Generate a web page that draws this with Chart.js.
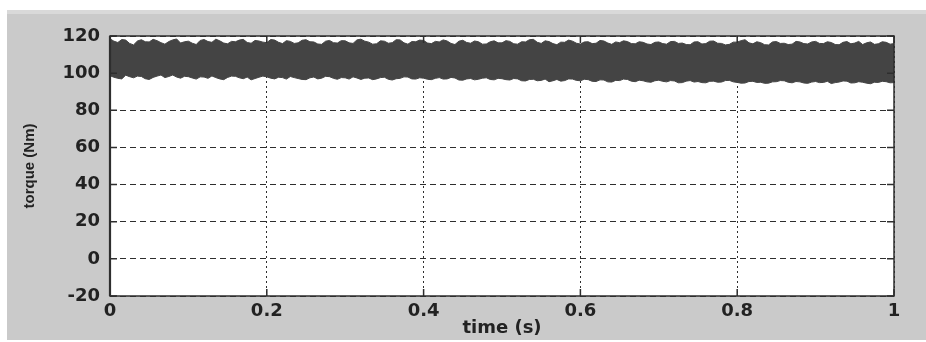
<!DOCTYPE html>
<html><head><meta charset="utf-8">
<script src="https://cdn.jsdelivr.net/npm/chart.js@4/dist/chart.umd.min.js"></script>
<style>html,body{margin:0;padding:0;background:#fff;overflow:hidden}
#wrap{position:relative;width:926px;height:342px}</style>
</head><body><div id="wrap"><canvas id="c" width="926" height="342"></canvas></div>
<script>
// time samples (s)
const timeS = [0,0.005,0.01,0.015,0.02,0.025,0.03,0.035,0.04,0.045,0.05,0.055,0.06,0.065,0.07,0.075,0.08,0.085,0.09,0.095,
0.10,0.105,0.11,0.115,0.12,0.125,0.13,0.135,0.14,0.145,0.15,0.155,0.16,0.165,0.17,0.175,0.18,0.185,0.19,0.195,
0.20,0.205,0.21,0.215,0.22,0.225,0.23,0.235,0.24,0.245,0.25,0.255,0.26,0.265,0.27,0.275,0.28,0.285,0.29,0.295,
0.30,0.305,0.31,0.315,0.32,0.325,0.33,0.335,0.34,0.345,0.35,0.355,0.36,0.365,0.37,0.375,0.38,0.385,0.39,0.395,
0.40,0.405,0.41,0.415,0.42,0.425,0.43,0.435,0.44,0.445,0.45,0.455,0.46,0.465,0.47,0.475,0.48,0.485,0.49,0.495,
0.50,0.505,0.51,0.515,0.52,0.525,0.53,0.535,0.54,0.545,0.55,0.555,0.56,0.565,0.57,0.575,0.58,0.585,0.59,0.595,
0.60,0.605,0.61,0.615,0.62,0.625,0.63,0.635,0.64,0.645,0.65,0.655,0.66,0.665,0.67,0.675,0.68,0.685,0.69,0.695,
0.70,0.705,0.71,0.715,0.72,0.725,0.73,0.735,0.74,0.745,0.75,0.755,0.76,0.765,0.77,0.775,0.78,0.785,0.79,0.795,
0.80,0.805,0.81,0.815,0.82,0.825,0.83,0.835,0.84,0.845,0.85,0.855,0.86,0.865,0.87,0.875,0.88,0.885,0.89,0.895,
0.90,0.905,0.91,0.915,0.92,0.925,0.93,0.935,0.94,0.945,0.95,0.955,0.96,0.965,0.97,0.975,0.98,0.985,0.99,0.995,1.00];
// upper envelope of the torque ripple (Nm)
const upperNm = [118.5,117.2,116.5,118.1,117.8,116.0,115.2,117.3,118.0,116.9,116.8,118.2,117.5,116.4,115.6,117.0,117.9,118.4,116.2,116.9,
117.2,116.1,115.4,117.6,118.1,117.0,116.6,118.3,117.4,116.2,115.8,117.1,116.9,117.8,118.2,116.5,116.1,117.6,117.3,116.7,
116.4,118.1,117.8,116.6,115.9,117.5,117.1,116.0,116.3,117.7,118.0,116.9,116.8,115.7,115.5,117.2,117.6,116.4,116.2,117.5,
117.4,116.3,116.0,117.9,118.3,117.2,116.7,115.6,115.8,117.4,117.2,116.1,116.4,118.0,117.9,116.3,115.6,117.0,116.9,117.8,
117.6,116.2,115.9,117.1,116.8,117.9,117.3,116.0,115.4,117.2,117.7,116.5,116.1,117.3,116.9,115.6,115.7,116.9,117.4,116.3,
116.3,117.5,117.1,115.8,115.6,116.9,116.8,118.0,118.2,116.6,116.0,117.4,117.0,115.9,115.3,116.7,116.6,117.8,117.2,116.1,
115.7,116.8,116.9,115.9,116.1,117.6,117.3,116.2,115.5,116.8,116.4,117.4,117.0,115.9,115.8,116.9,116.6,115.7,115.4,116.6,
116.8,115.9,115.6,117.0,117.1,116.0,116.2,115.4,115.3,116.8,116.9,115.7,115.9,117.2,117.3,116.1,116.0,115.2,115.5,116.7,
116.7,117.5,118.0,116.3,115.8,116.9,116.4,115.3,115.2,116.8,117.0,116.0,116.1,115.4,115.6,117.1,116.8,115.9,115.7,116.8,
117.1,116.0,115.9,116.9,116.5,115.4,115.3,116.6,117.0,115.8,116.2,117.1,115.4,116.3,116.8,115.5,115.8,116.9,116.6,115.6,115.9];
// lower envelope of the torque ripple (Nm)
const lowerNm = [98.6,97.8,97.2,96.9,98.9,98.1,97.5,98.4,98.2,97.0,96.6,97.7,98.4,99.0,97.6,98.2,99.0,97.9,97.3,98.3,
98.1,97.4,96.8,98.0,97.9,97.2,98.5,97.6,96.9,96.5,97.7,98.4,98.3,97.5,97.0,97.9,96.4,97.1,97.8,98.4,
98.0,97.3,96.9,97.8,97.6,96.8,98.2,97.6,97.1,96.6,96.5,97.5,97.9,96.9,97.3,98.3,98.1,97.2,96.7,97.6,
97.5,96.8,98.0,97.4,96.6,97.3,97.4,96.5,96.9,97.6,97.8,96.7,96.3,97.0,97.2,98.0,97.9,96.9,96.8,97.5,
97.3,96.7,96.5,97.2,97.6,96.8,96.9,97.7,97.4,96.3,96.2,96.9,97.1,96.4,96.7,97.3,97.5,96.6,96.4,97.2,
97.0,96.5,96.3,97.1,96.9,95.9,95.8,96.6,96.7,95.9,96.1,96.8,95.4,95.9,96.6,95.7,96.0,96.9,96.8,96.1,
95.9,96.7,96.5,95.6,95.5,96.4,96.3,95.3,95.2,96.1,96.0,96.8,96.6,95.7,95.4,96.2,95.9,95.3,95.1,95.9,
96.2,95.6,95.3,96.0,95.8,94.8,94.9,95.7,96.0,95.2,95.5,94.9,94.8,95.6,95.7,95.1,95.2,96.0,96.1,95.3,
95.0,94.6,94.7,95.5,95.6,95.0,95.1,94.5,94.6,95.3,95.4,96.0,95.9,95.1,94.8,95.5,95.3,94.7,94.5,95.2,
95.5,94.9,95.0,95.6,94.4,94.9,95.2,95.8,95.7,94.7,94.8,95.4,95.1,94.6,94.3,95.1,95.0,95.6,95.4,94.8,94.9];
const xTicks = [0,0.2,0.4,0.6,0.8,1];
const yTicks = [-20,0,20,40,60,80,100,120];

const AXIS = '#2e2e2e';
const bgPlugin = {
  id:'bg',
  beforeDraw(chart){
    const ctx = chart.ctx, a = chart.chartArea;
    ctx.save();
    ctx.fillStyle = '#fff'; ctx.fillRect(0,0,chart.width,chart.height);
    ctx.fillStyle = '#cacaca'; ctx.fillRect(7,10,chart.width-7,330);
    ctx.fillStyle = '#d9d9d9'; ctx.fillRect(7,10,chart.width-7,4);
    ctx.fillStyle = '#fff'; ctx.fillRect(a.left,a.top,a.right-a.left,a.bottom-a.top);
    ctx.restore();
  },
  afterDatasetsDraw(chart){
    const ctx = chart.ctx, a = chart.chartArea;
    const xs = chart.scales.x, ys = chart.scales.y;
    ctx.save();
    ctx.strokeStyle = AXIS; ctx.lineWidth = 1.5;
    ctx.beginPath();
    xTicks.forEach(v=>{const p = xs.getPixelForValue(v);
      ctx.moveTo(p,a.bottom); ctx.lineTo(p,a.bottom-7);
      ctx.moveTo(p,a.top); ctx.lineTo(p,a.top+7);});
    yTicks.forEach(v=>{const p = ys.getPixelForValue(v);
      ctx.moveTo(a.left,p); ctx.lineTo(a.left+7,p);
      ctx.moveTo(a.right,p); ctx.lineTo(a.right-7,p);});
    ctx.stroke();
    ctx.lineWidth = 1.5;
    ctx.strokeRect(a.left,a.top,a.right-a.left,a.bottom-a.top);
    ctx.lineWidth = 2.2;
    ctx.beginPath(); ctx.moveTo(a.left,a.top); ctx.lineTo(a.left,a.bottom); ctx.stroke();
    ctx.restore();
  }
};

const n = Math.min(timeS.length, upperNm.length, lowerNm.length);
new Chart(document.getElementById('c'), {
  type:'line',
  data:{datasets:[
    {label:'upper', data: timeS.slice(0,n).map((t,i)=>({x:t,y:upperNm[i]})), borderColor:'#444', borderWidth:1, pointRadius:0, fill:false, tension:0},
    {label:'lower', data: timeS.slice(0,n).map((t,i)=>({x:t,y:lowerNm[i]})), borderColor:'#444', borderWidth:1, pointRadius:0, fill:'-1', backgroundColor:'#444', tension:0}
  ]},
  options:{
    responsive:false, animation:false,
    layout:{padding:{left:0,top:36,right:32,bottom:0}},
    plugins:{legend:{display:false}, tooltip:{enabled:false}},
    scales:{
      x:{type:'linear', min:0, max:1,
        afterBuildTicks(s){ s.ticks = xTicks.map(v=>({value:v})); },
        afterFit(s){ s.height = 46; },
        ticks:{padding:5, color:'#222', font:{family:'DejaVu Sans', size:18, weight:'bold'}, callback:v=>String(v), maxRotation:0},
        grid:{color:AXIS, lineWidth:1, drawTicks:false},
        border:{display:false, dash:[2,3]},
        title:{display:true, text:'time (s)', color:'#222', font:{family:'DejaVu Sans', size:18, weight:'bold'}, padding:{top:0,bottom:3}}
      },
      y:{type:'linear', min:-20, max:120,
        afterBuildTicks(s){ s.ticks = yTicks.map(v=>({value:v})); },
        afterFit(s){ s.width = 110; },
        ticks:{padding:10, color:'#222', font:{family:'DejaVu Sans', size:18, weight:'bold'}},
        grid:{color:AXIS, lineWidth:1, drawTicks:false},
        border:{display:false, dash:[6,4]},
        title:{display:true, text:'torque (Nm)', color:'#222', font:{family:'Liberation Sans', size:15, weight:'bold'}, padding:{top:21,bottom:0}}
      }
    }
  },
  plugins:[bgPlugin]
});
</script></body></html>
